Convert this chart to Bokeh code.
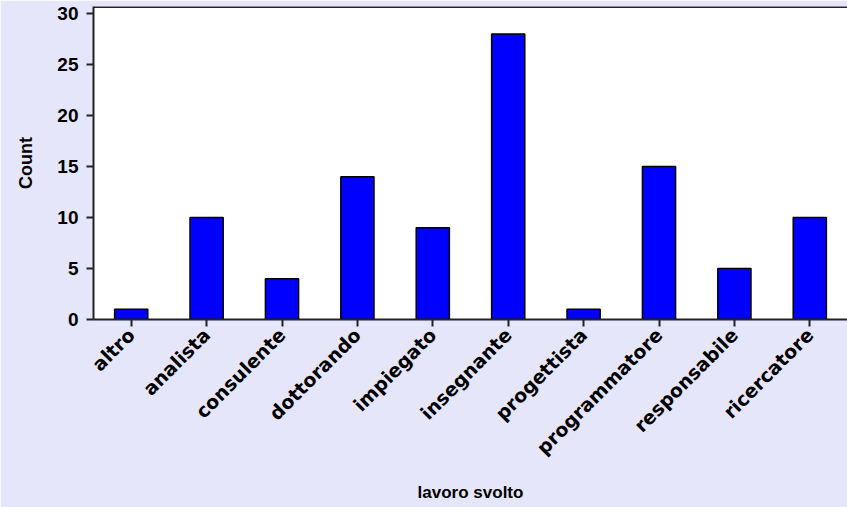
import math
from bokeh.plotting import figure
from bokeh.models import Range1d, FactorRange, SingleIntervalTicker, Span
from bokeh.embed import file_html
from bokeh.resources import INLINE

categories = ["altro", "analista", "consulente", "dottorando", "impiegato",
              "insegnante", "progettista", "programmatore", "responsabile", "ricercatore"]
counts = [1, 10, 4, 14, 9, 28, 1, 15, 5, 10]
y_top = 30.7

FONT = "Liberation Sans"
XFONT = "DejaVu Sans"

p = figure(width=847, height=507, output_backend="svg", toolbar_location=None,
           x_range=FactorRange(*categories), y_range=Range1d(0, y_top),
           min_border_top=6, min_border_right=0, min_border_left=93,
           min_border_bottom=188)
p.background_fill_color = "white"
p.border_fill_color = "#E6E6FA"
p.outline_line_color = None

p.vbar(x=categories, top=counts, width=0.44, bottom=0,
       fill_color="#0000FF", line_color="black", line_width=1.5)

p.xgrid.visible = False
p.ygrid.visible = False

xax = p.below[0]
yax = p.left[0]

yax.ticker = SingleIntervalTicker(interval=5)
yax.minor_tick_line_color = None
for ax in (xax, yax):
    ax.axis_line_color = "#222222"
    ax.axis_line_width = 2
    ax.major_tick_line_color = "#222222"
    ax.major_tick_line_width = 2
    ax.major_tick_in = 0
    ax.major_tick_out = 7
    ax.major_label_text_font_style = "bold"
    ax.major_label_text_color = "black"
    ax.axis_label_text_font = FONT
    ax.axis_label_text_font_style = "bold"
    ax.axis_label_text_color = "black"

yax.major_label_text_font = FONT
yax.major_label_text_font_size = "19px"
xax.major_label_text_font = XFONT
xax.major_label_text_font_size = "19px"
xax.major_label_orientation = math.pi / 4
xax.major_label_standoff = 5
yax.major_label_standoff = 8

xax.axis_label = "lavoro svolto"
yax.axis_label = "Count"
xax.axis_label_text_font_size = "17px"
yax.axis_label_text_font_size = "18px"
xax.axis_label_standoff = 14
yax.axis_label_standoff = 18

# top border line only (no right border visible in the reference)
p.add_layout(Span(location=y_top, dimension="width",
                  line_color="#222222", line_width=3))

open("out.html", "w").write(file_html(p, INLINE))
